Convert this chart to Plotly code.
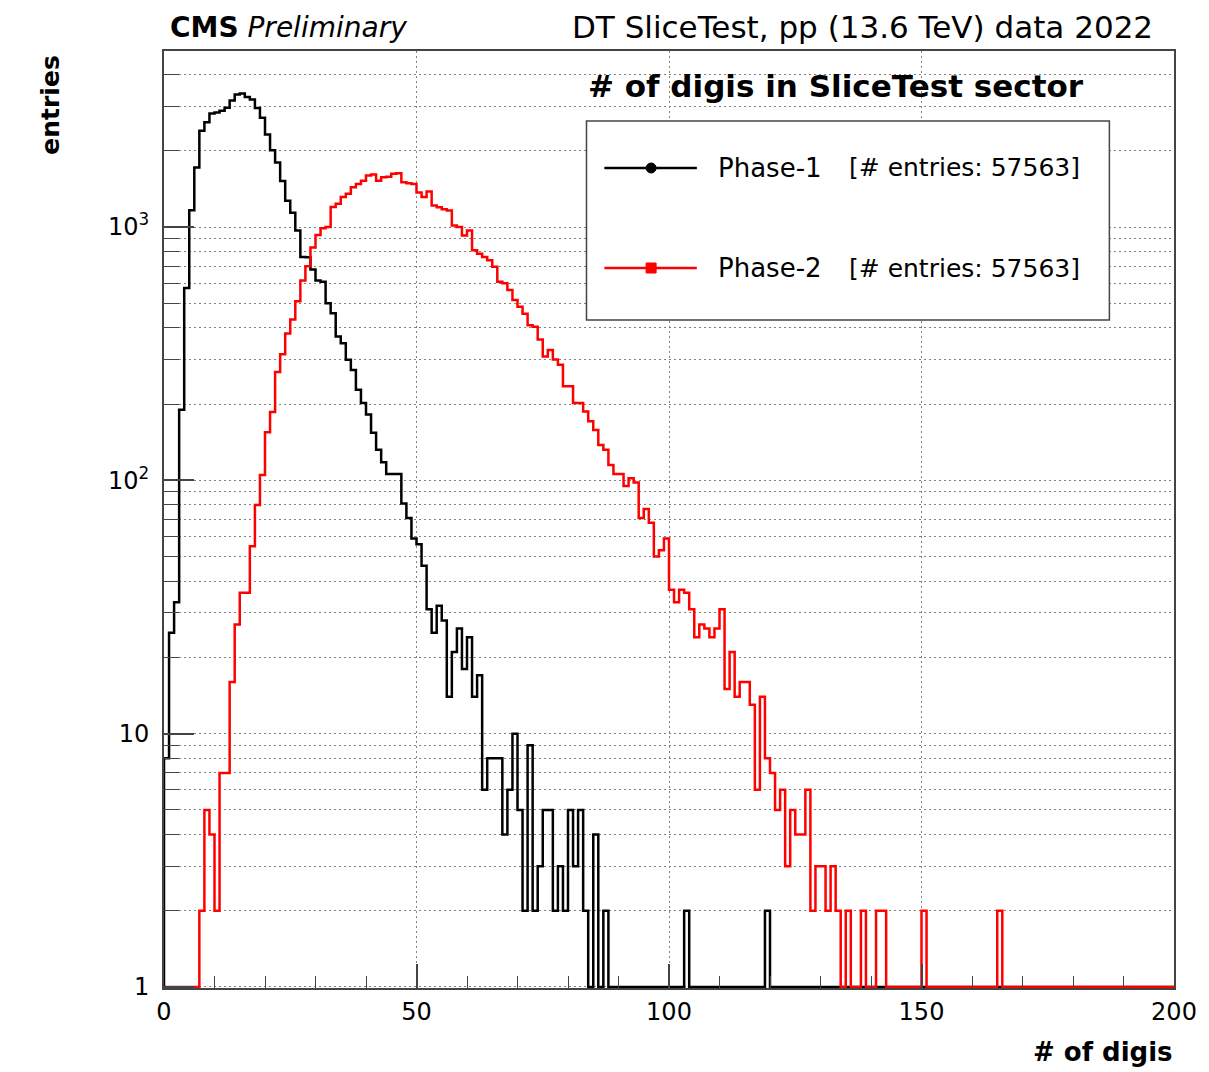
import numpy as np
import plotly.graph_objects as go

# ---------------- data (bin width 1, 0..200) ----------------
bin_low_edges = list(range(0, 200))

phase1_counts = [
    8, 25, 33, 190, 575, 1165, 1720, 2400, 2590, 2810,
    2830, 2880, 2960, 3160, 3340, 3370, 3260, 3190, 2950, 2700,
    2320, 2010, 1800, 1520, 1270, 1140, 970, 762, 760, 680,
    615, 608, 500, 457, 370, 348, 299, 273, 228, 202,
    182, 154, 132, 118, 106, 106, 106, 81, 71, 59,
    56, 46, 31, 25, 32, 28, 14, 21, 26, 18,
    24, 14, 17, 6, 8, 8, 8, 4, 6, 10,
    5, 2, 9, 2, 3, 5, 5, 2, 3, 2,
    5, 3, 5, 2, 0, 4, 0, 2, 0, 0,
    0, 0, 0, 0, 0, 0, 0, 0, 0, 0,
    0, 0, 0, 2, 0, 0, 0, 0, 0, 0,
    0, 0, 0, 0, 0, 0, 0, 0, 0, 2,
] + [0] * 80

phase2_counts = [
    0, 0, 0, 0, 0, 0, 0, 2, 5, 4,
    2, 7, 7, 16, 27, 36, 36, 55, 80, 105,
    155, 186, 268, 315, 380, 432, 510, 615, 700, 830,
    930, 990, 1000, 1200, 1236, 1313, 1353, 1437, 1480, 1525,
    1596, 1611, 1525, 1573, 1580, 1622, 1630, 1504, 1490, 1480,
    1370, 1313, 1380, 1217, 1198, 1175, 1163, 1015, 1000, 927,
    970, 809, 785, 762, 740, 697, 608, 600, 564, 515,
    485, 455, 410, 404, 360, 308, 327, 300, 286, 235,
    235, 202, 202, 187, 171, 158, 138, 132, 115, 106,
    106, 95, 102, 98, 71, 77, 68, 50, 53, 59,
    37, 33, 37, 36, 31, 24, 27, 26, 24, 26,
    31, 15, 21, 14, 16, 16, 13, 6, 14, 8,
    7, 5, 6, 3, 5, 4, 4, 6, 2, 3,
    3, 2, 3, 2, 0, 2, 0, 0, 2, 0,
    0, 2, 2, 0, 0, 0, 0, 0, 0, 0,
    2, 0, 0, 0, 0, 0, 0, 0, 0, 0,
    0, 0, 0, 0, 0, 2, 0, 0, 0, 0,
] + [0] * 30

series_names = ["Phase-1", "Phase-2"]
series_entries = [57563, 57563]
series_colors = ["#000000", "#ff0000"]

x_tick_vals = [0, 50, 100, 150, 200]
x_tick_text = ["0", "50", "100", "150", "200"]
y_tick_vals = [1, 10, 100, 1000]
y_tick_text = ["1", "10", "10<sup>2</sup>", "10<sup>3</sup>"]

FONT = "DejaVu Sans"

# ---------------- geometry ----------------
# the page body adds an 8px offset, so the figure is 8px smaller than the window
BODY = 8
W, H = 1209 - BODY, 1072 - BODY
# plot area in window pixels
PL, PR, PT, PB = 164, 1180, 51, 988
ML, MR, MT, MB = PL - BODY, W - (PR - BODY), PT - BODY, H - (PB - BODY)
PW, PH = PR - PL, PB - PT


def px_x(p):
    return (p - PL) / PW


def px_y(p):
    return (PB - p) / PH


fig = go.Figure()

edges = np.array(bin_low_edges + [bin_low_edges[-1] + 1], dtype=float)
for counts, name, col in zip([phase1_counts, phase2_counts], series_names, series_colors):
    c = np.maximum(np.array(counts, dtype=float), 1.0)  # empty bins drawn on the log-axis floor
    xs = np.concatenate([[edges[0]], edges])
    ys = np.concatenate([[1.0], c, [1.0]])
    fig.add_trace(go.Scatter(x=xs, y=ys, mode="lines", line=dict(color=col, width=2.5, shape="hv"),
                             name=name, hoverinfo="skip", showlegend=False))

grid_col = "#808080"
minor_y = [m * 10 ** d for d in range(0, 4) for m in range(2, 10) if m * 10 ** d < 4900]

fig.update_layout(
    width=W, height=H,
    margin=dict(l=ML, r=MR, t=MT, b=MB, pad=0),
    paper_bgcolor="white", plot_bgcolor="white",
    showlegend=False,
    xaxis=dict(range=[0, 200], tickvals=x_tick_vals, ticktext=x_tick_text,
               ticks="inside", ticklen=24, tickwidth=1.5, tickcolor="#444",
               minor=dict(dtick=10, tick0=0, ticks="inside", ticklen=12, tickwidth=1.2, tickcolor="#444", showgrid=False),
               showgrid=True, gridcolor=grid_col, gridwidth=1, griddash="2px,3px",
               showline=True, linecolor="#444", linewidth=2, mirror=True, zeroline=False,
               tickfont=dict(family=FONT, size=24, color="black"), ticklabelstandoff=1),
    yaxis=dict(type="log", range=[-0.004, 3.695], tickvals=y_tick_vals, ticktext=y_tick_text,
               ticks="inside", ticklen=30, tickwidth=1.5, tickcolor="#444",
               minor=dict(tickvals=minor_y, ticks="inside", ticklen=15, tickwidth=1.2, tickcolor="#444",
                          showgrid=True, gridcolor=grid_col, gridwidth=1, griddash="2px,3px"),
               showgrid=True, gridcolor=grid_col, gridwidth=1, griddash="2px,3px",
               showline=True, linecolor="#444", linewidth=2, mirror=True, zeroline=False,
               tickfont=dict(family=FONT, size=24, color="black"), ticklabelstandoff=8),
)

ann = []
# header texts
ann.append(dict(x=px_x(168), y=px_y(27), xref="paper", yref="paper", xanchor="left", yanchor="middle",
                text="<b>CMS</b> <i>Preliminary</i>", showarrow=False,
                font=dict(family=FONT, size=28, color="black")))
ann.append(dict(x=px_x(1161), y=px_y(27), xref="paper", yref="paper", xanchor="right", yanchor="middle",
                text="DT SliceTest, pp (13.6 TeV) data 2022", showarrow=False,
                font=dict(family=FONT, size=31, color="black")))
ann.append(dict(x=px_x(840), y=px_y(86), xref="paper", yref="paper", xanchor="center", yanchor="middle",
                text="<b># of digis in SliceTest sector</b>", showarrow=False,
                font=dict(family=FONT, size=31, color="black")))
# axis titles
ann.append(dict(x=px_x(1181), y=px_y(1052), xref="paper", yref="paper", xanchor="right", yanchor="middle",
                text="<b># of digis</b>", showarrow=False,
                font=dict(family=FONT, size=26, color="black")))
ann.append(dict(x=px_x(50), y=px_y(105), xref="paper", yref="paper", xanchor="center", yanchor="middle",
                text="<b>entries</b>", textangle=-90, showarrow=False,
                font=dict(family=FONT, size=25, color="black")))

shapes = []
# legend box
shapes.append(dict(type="rect", xref="paper", yref="paper", x0=px_x(589), x1=px_x(1115), y0=px_y(320), y1=px_y(121),
                   fillcolor="white", line=dict(color="#444", width=1.5), layer="above"))
leg_rows = [168, 268]
for i, (name, n, col) in enumerate(zip(series_names, series_entries, series_colors)):
    yy = px_y(leg_rows[i])
    shapes.append(dict(type="line", xref="paper", yref="paper", x0=px_x(607), x1=px_x(700), y0=yy, y1=yy,
                       line=dict(color=col, width=2.5), layer="above"))
    shapes.append(dict(type="circle" if i == 0 else "rect", xref="paper", yref="paper",
                       xsizemode="pixel", ysizemode="pixel", xanchor=px_x(654), yanchor=yy,
                       x0=-5, x1=5, y0=-5, y1=5, fillcolor=col, line=dict(color=col, width=1), layer="above"))
    ann.append(dict(x=px_x(719), y=yy, xref="paper", yref="paper", xanchor="left", yanchor="middle",
                    text=name, showarrow=False, font=dict(family=FONT, size=26, color="black")))
    ann.append(dict(x=px_x(851), y=yy, xref="paper", yref="paper", xanchor="left", yanchor="middle",
                    text=f"[# entries: {n}]", showarrow=False, font=dict(family=FONT, size=25, color="black")))

fig.update_layout(annotations=ann, shapes=shapes)
fig.write_html("out.html")
